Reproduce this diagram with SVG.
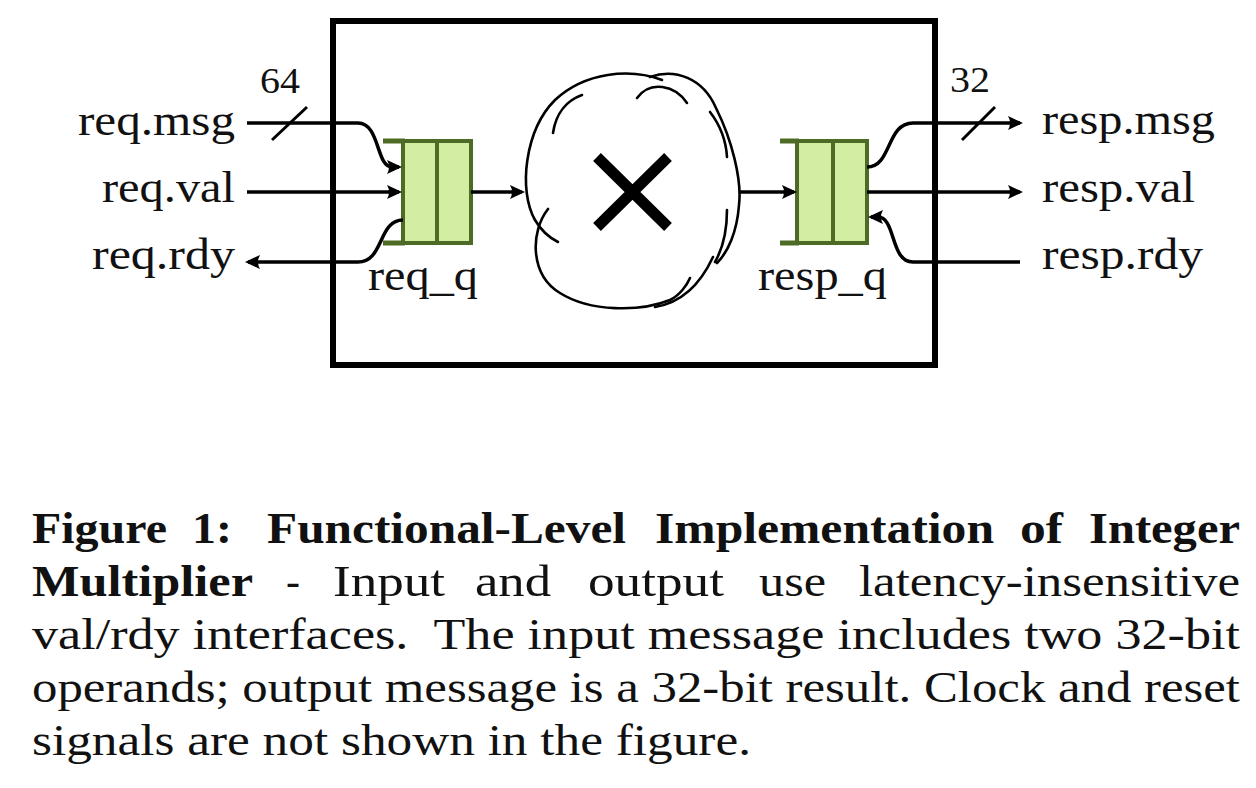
<svg xmlns="http://www.w3.org/2000/svg" width="1256" height="788" viewBox="0 0 1256 788">
<style>
.lbl{font-family:"Liberation Serif","Times New Roman",serif;font-size:45px;fill:#111}
.num{font-family:"Liberation Serif","Times New Roman",serif;font-size:36px;fill:#111}
.cap{font-family:"Liberation Serif","Times New Roman",serif;font-size:44px;fill:#111}
.b{font-weight:bold}
.wire{fill:none;stroke:#000;stroke-width:3.5}
.cloud{fill:none;stroke:#000;stroke-width:2.6;stroke-linecap:round}
.qbody{fill:#d3eea3;stroke:#4e6b26;stroke-width:4}
.qbar{stroke:#4e6b26;stroke-width:5}
</style>
<defs>
<marker id="ah" markerUnits="userSpaceOnUse" viewBox="-14 -8 18 16" markerWidth="18" markerHeight="16" refX="0" refY="0" orient="auto">
<path d="M3,0 L-12,-7 Q-8,0 -12,7 Z" fill="#000"/>
</marker>
</defs>
<rect width="1256" height="788" fill="#fff"/>

<g id="box">
<rect x="333" y="21" width="602" height="344" fill="none" stroke="#000" stroke-width="6"/>
</g>

<g id="multiplier">
<path class="cloud" d="M662,80 C630,68 585,72 555,100 C525,130 518,190 535,220 C542,232 550,238 558,242"/>
<path class="cloud" d="M650,77 C675,68 703,78 716,108 C732,140 742,180 739,205 C737,232 728,252 717,263"/>
<path class="cloud" d="M548,209 C530,232 530,275 560,293 C590,312 640,312 670,300 C680,295 687,285 690,278"/>
<path class="cloud" d="M553,133 C556,112 568,100 582,95"/>
<path class="cloud" d="M637,98 C650,80 675,85 687,103"/>
<path class="cloud" d="M710,112 C720,125 726,140 727,157"/>
<path class="cloud" d="M727,210 C727,230 723,248 715,262"/>
<path class="cloud" d="M655,307 C680,303 700,285 713,257"/>
<path d="M597,157 L668,227 M668,157 L597,227" stroke="#000" stroke-width="11" fill="none"/>
</g>

<g id="req_q">
<line class="qbar" x1="383" y1="141" x2="405" y2="141"/>
<line class="qbar" x1="383" y1="243" x2="405" y2="243"/>
<rect class="qbody" x="403" y="141" width="68" height="102"/>
<line class="qbar" x1="437" y1="141" x2="437" y2="243" style="stroke-width:4"/>
<text class="lbl" x="368" y="290" textLength="110" lengthAdjust="spacingAndGlyphs">req_q</text>
</g>

<g id="resp_q">
<line class="qbar" x1="780" y1="141" x2="799" y2="141"/>
<line class="qbar" x1="780" y1="243" x2="799" y2="243"/>
<rect class="qbody" x="797" y="141" width="70" height="102"/>
<line class="qbar" x1="833" y1="141" x2="833" y2="243" style="stroke-width:4"/>
<text class="lbl" x="758" y="290" textLength="129" lengthAdjust="spacingAndGlyphs">resp_q</text>
</g>

<g id="connectors">
<path class="wire" d="M247,123 H358 C380,123 376,167 392,167 H399" marker-end="url(#ah)"/>
<path class="wire" d="M247,192 H399" marker-end="url(#ah)"/>
<path class="wire" d="M403,220 C378,220 384,262 358,262 H248" marker-end="url(#ah)"/>
<path class="wire" d="M471,192 H522" marker-end="url(#ah)"/>
<path class="wire" d="M740,192 H794" marker-end="url(#ah)"/>
<path class="wire" d="M867,167 C892,167 886,123 913,123 H1020" marker-end="url(#ah)"/>
<path class="wire" d="M867,192 H1020" marker-end="url(#ah)"/>
<path class="wire" d="M1020,262 H913 C890,262 896,217 878,217 H871" marker-end="url(#ah)"/>
<line x1="272" y1="140" x2="307" y2="107" stroke="#000" stroke-width="3"/>
<line x1="962" y1="140" x2="995" y2="107" stroke="#000" stroke-width="3"/>
</g>

<g id="port-labels">
<text class="num" x="260" y="93" textLength="40" lengthAdjust="spacingAndGlyphs">64</text>
<text class="num" x="950" y="92" textLength="40" lengthAdjust="spacingAndGlyphs">32</text>
<text class="lbl" x="78" y="135" textLength="157" lengthAdjust="spacingAndGlyphs">req.msg</text>
<text class="lbl" x="102" y="202" textLength="133" lengthAdjust="spacingAndGlyphs">req.val</text>
<text class="lbl" x="92" y="269" textLength="143" lengthAdjust="spacingAndGlyphs">req.rdy</text>
<text class="lbl" x="1042" y="134" textLength="173" lengthAdjust="spacingAndGlyphs">resp.msg</text>
<text class="lbl" x="1042" y="202" textLength="153" lengthAdjust="spacingAndGlyphs">resp.val</text>
<text class="lbl" x="1042" y="269" textLength="161" lengthAdjust="spacingAndGlyphs">resp.rdy</text>
</g>

<g id="caption">
<text class="cap b" x="32" y="543" textLength="135" lengthAdjust="spacingAndGlyphs">Figure</text>
<text class="cap b" x="192" y="543" textLength="40" lengthAdjust="spacingAndGlyphs">1:</text>
<text class="cap b" x="267" y="543" textLength="359" lengthAdjust="spacingAndGlyphs">Functional-Level</text>
<text class="cap b" x="655" y="543" textLength="339" lengthAdjust="spacingAndGlyphs">Implementation</text>
<text class="cap b" x="1020" y="543" textLength="43" lengthAdjust="spacingAndGlyphs">of</text>
<text class="cap b" x="1089" y="543" textLength="151" lengthAdjust="spacingAndGlyphs">Integer</text>

<text class="cap b" x="32" y="596" textLength="221" lengthAdjust="spacingAndGlyphs">Multiplier</text>
<text class="cap" x="286" y="596" textLength="14" lengthAdjust="spacingAndGlyphs">-</text>
<text class="cap" x="333" y="596" textLength="112" lengthAdjust="spacingAndGlyphs">Input</text>
<text class="cap" x="475" y="596" textLength="76" lengthAdjust="spacingAndGlyphs">and</text>
<text class="cap" x="588" y="596" textLength="136" lengthAdjust="spacingAndGlyphs">output</text>
<text class="cap" x="759" y="596" textLength="67" lengthAdjust="spacingAndGlyphs">use</text>
<text class="cap" x="859" y="596" textLength="381" lengthAdjust="spacingAndGlyphs">latency-insensitive</text>

<text class="cap" x="32" y="649" textLength="1208" lengthAdjust="spacingAndGlyphs">val/rdy interfaces.&#160; The input message includes two 32-bit</text>
<text class="cap" x="32" y="702" textLength="1208" lengthAdjust="spacingAndGlyphs">operands; output message is a 32-bit result. Clock and reset</text>
<text class="cap" x="32" y="755" textLength="719" lengthAdjust="spacingAndGlyphs">signals are not shown in the figure.</text>
</g>
</svg>
